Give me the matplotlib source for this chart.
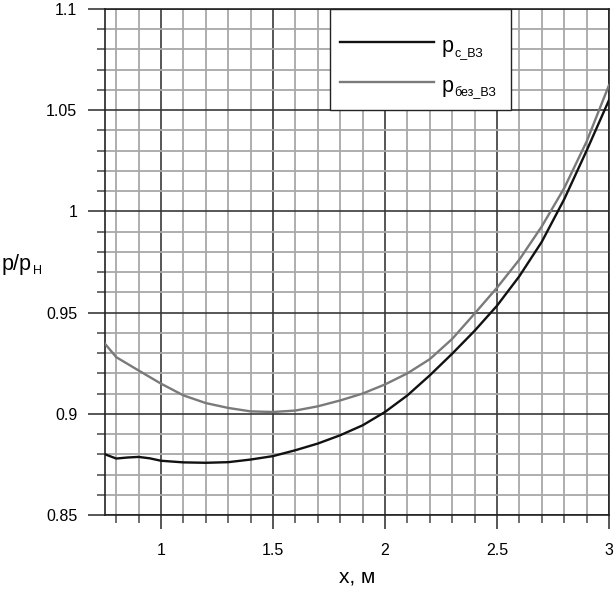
import matplotlib
matplotlib.use("Agg")
import matplotlib.pyplot as plt
from matplotlib.ticker import MultipleLocator
from matplotlib.patches import Rectangle

plt.rcParams['font.family'] = ['Liberation Sans', 'DejaVu Sans']

# Data
x_with = [0.75, 0.8, 0.85, 0.9, 0.95, 1.0, 1.1, 1.2, 1.3, 1.4, 1.5, 1.6, 1.7, 1.8,
          1.9, 2.0, 2.1, 2.2, 2.3, 2.4, 2.5, 2.6, 2.7, 2.8, 2.9, 3.0]
p_with = [0.8800, 0.8779, 0.8784, 0.8787, 0.8780, 0.8768, 0.8760, 0.8758, 0.8761,
          0.8774, 0.8791, 0.8820, 0.8853, 0.8894, 0.8943, 0.9009, 0.9091, 0.9190,
          0.9297, 0.9410, 0.9534, 0.9680, 0.9850, 1.0060, 1.0300, 1.0550]

x_without = [0.75, 0.8, 0.9, 1.0, 1.1, 1.2, 1.3, 1.4, 1.5, 1.6, 1.7, 1.8, 1.9, 2.0,
             2.1, 2.2, 2.3, 2.4, 2.5, 2.6, 2.7, 2.8, 2.9, 3.0]
p_without = [0.9346, 0.9280, 0.9214, 0.9149, 0.9091, 0.9053, 0.9029, 0.9012, 0.9009,
             0.9016, 0.9037, 0.9066, 0.9100, 0.9145, 0.9200, 0.9270, 0.9370, 0.9495,
             0.9623, 0.9762, 0.9926, 1.0115, 1.0345, 1.0624]

legend_main = ['p', 'p']
legend_sub = ['с_ВЗ', 'без_ВЗ']
series_colors = ['#111111', '#7a7a7a']
x_ticks = [1, 1.5, 2, 2.5, 3]
x_ticklabels = ['1', '1.5', '2', '2.5', '3']
y_ticks = [0.85, 0.9, 0.95, 1.0, 1.05, 1.1]
y_ticklabels = ['0.85', '0.9', '0.95', '1', '1.05', '1.1']

fig = plt.figure(figsize=(6.15, 5.9), dpi=100)
ax = fig.add_axes([105/615, 1 - 515/590, 504/615, 506/590])

ax.set_xlim(0.75, 3.0)
ax.set_ylim(0.85, 1.1)
ax.set_xticks(x_ticks)
ax.set_xticklabels(x_ticklabels)
ax.set_yticks(y_ticks)
ax.set_yticklabels(y_ticklabels)
ax.xaxis.set_minor_locator(MultipleLocator(0.1))
ax.yaxis.set_minor_locator(MultipleLocator(0.01))

ax.grid(which='minor', color='#a8a8a8', linewidth=1.3, zorder=0)
ax.grid(which='major', color='#3a3a3a', linewidth=1.2, zorder=0)
ax.set_axisbelow(True)

ax.tick_params(which='major', length=12, width=1.2, color='#3a3a3a',
               labelsize=11.5, pad=8)
ax.tick_params(which='minor', length=6, width=1.2, color='#555555')
ax.tick_params(axis='x', which='major', length=10, pad=10)

for s in ax.spines.values():
    s.set_color('#222222')
    s.set_linewidth(1.2)

ax.plot(x_with, p_with, color=series_colors[0], linewidth=1.7, zorder=3)
ax.plot(x_without, p_without, color=series_colors[1], linewidth=1.7, zorder=3)

# Legend box (drawn in axes coordinates)
ax.add_patch(Rectangle((0.4464, 0.8004), 0.3592, 0.1996, transform=ax.transAxes,
                       facecolor='white', edgecolor='#222222', linewidth=1.0,
                       zorder=5, clip_on=False))
handle_y = [0.9348, 0.8557]
text_y = [0.9150, 0.8360]
for i in range(2):
    ax.plot([0.4663, 0.6528], [handle_y[i], handle_y[i]], transform=ax.transAxes,
            color=series_colors[i], linewidth=1.7, zorder=6, clip_on=False)
    t = ax.text(0.6687, text_y[i], legend_main[i], transform=ax.transAxes,
                fontsize=15.5, ha='left', va='baseline', zorder=7)
    ax.annotate(legend_sub[i], xy=(1, 0), xycoords=t, xytext=(0.5, 0.4),
                textcoords='offset points', fontsize=9, ha='left',
                va='baseline', zorder=7)

# y label p/pН
yl = fig.text(2/615, 1 - 270/590, 'p/p', fontsize=15.5, ha='left', va='baseline')
ax.annotate('Н', xy=(1, 0), xycoords=yl, xytext=(0.5, 0.4),
            textcoords='offset points', fontsize=9, ha='left', va='baseline',
            annotation_clip=False)

ax.set_xlabel('x, м', fontsize=15, va='center')
ax.xaxis.set_label_coords(0.5, -0.1225)

fig.savefig('out.png', dpi=100)
